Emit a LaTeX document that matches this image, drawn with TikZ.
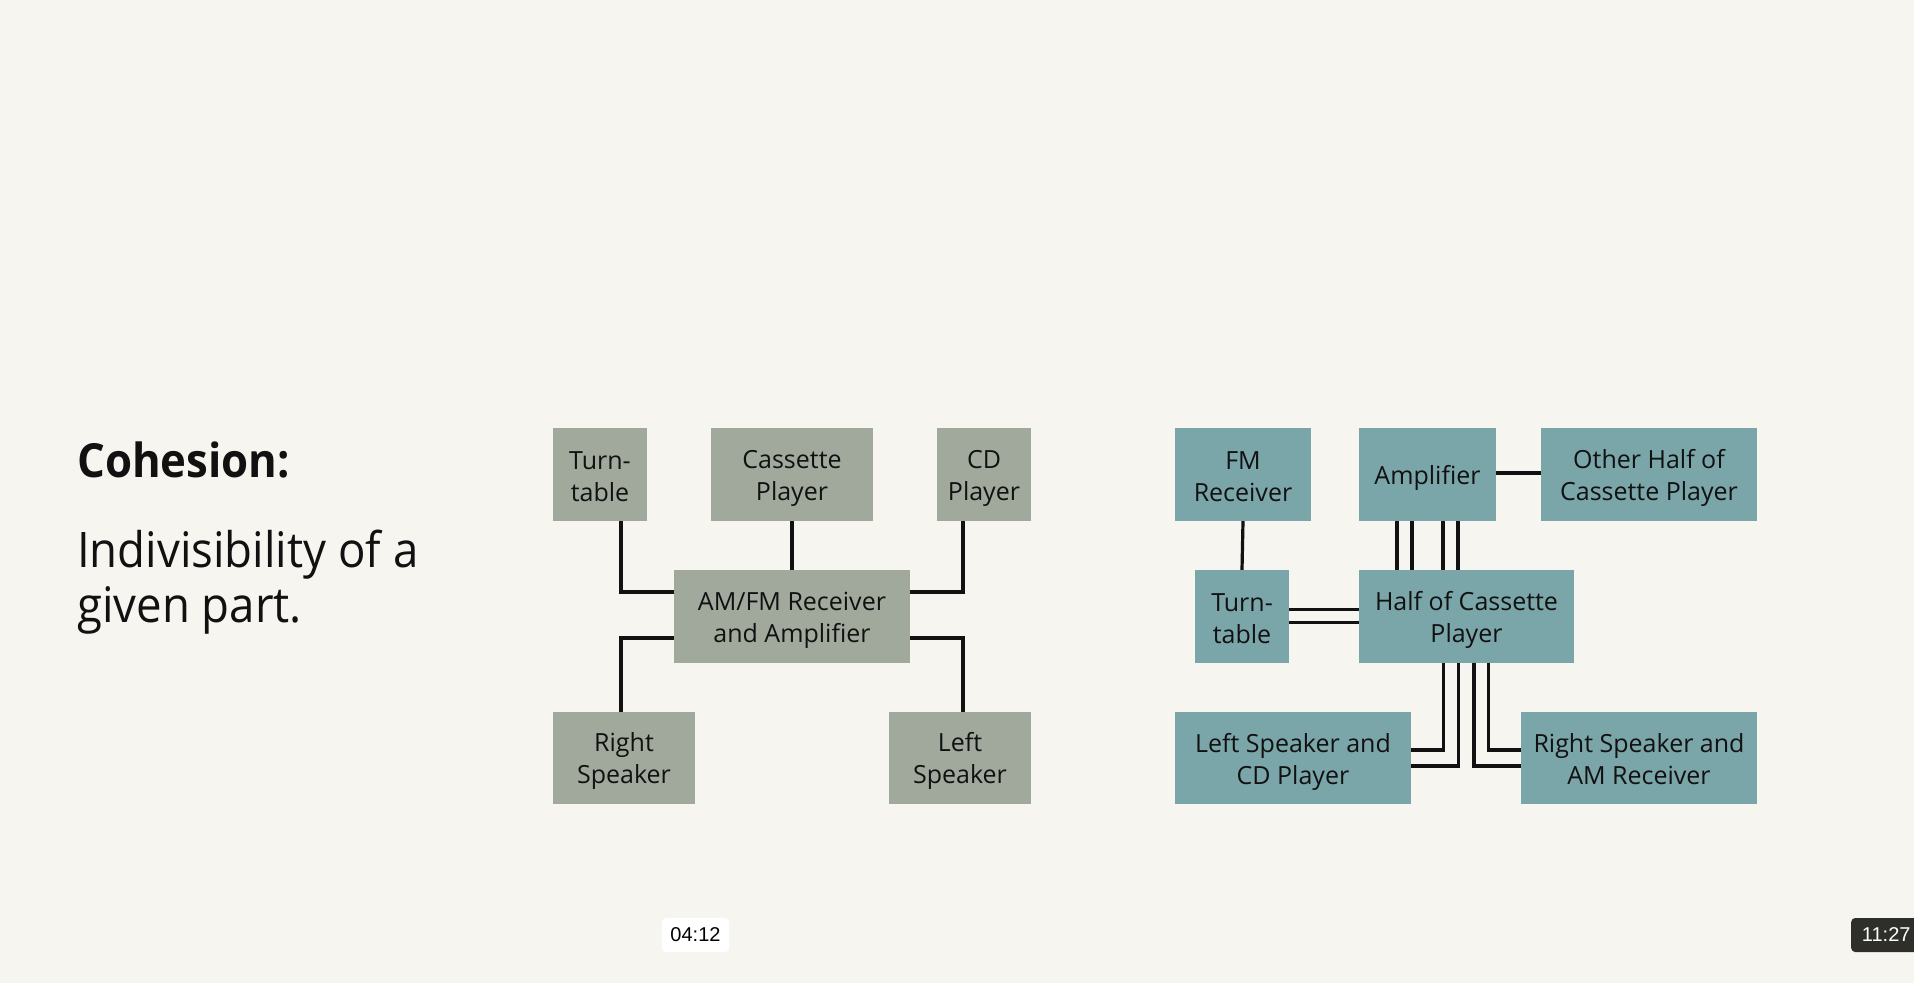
\documentclass[tikz,border=0pt]{standalone}
\usepackage{fontspec}
\setmainfont{Open Sans}
\newfontfamily\titlefont[FakeStretch=0.93]{Open Sans}
\newfontfamily\stampfont{Liberation Sans}
\usetikzlibrary{calc}
\definecolor{bg}{HTML}{F7F5EF}
\definecolor{grayfill}{HTML}{A1A99D}
\definecolor{tealfill}{HTML}{7AA5A9}
\definecolor{ink}{HTML}{111111}
\definecolor{darkstamp}{HTML}{2E2E2B}
\tikzset{
  box/.style={draw=none, inner sep=0pt},
  gbox/.style={box, fill=grayfill},
  tbox/.style={box, fill=tealfill},
  boxtext/.style={inner sep=0pt, align=center, text=ink,
    font=\fontsize{25}{32}\selectfont},
  wire/.style={draw=ink, line width=3.2pt},
  title/.style={anchor=base west, inner sep=0pt, text=ink},
  stamp/.style={inner sep=0pt, rounded corners=4pt, font=\stampfont\fontsize{20}{20}\selectfont}
}
\newcommand{\boxlabel}[3][-3.5pt]{\node[boxtext] (#2-t) at ([yshift=#1]#2.center) {#3};}
\begin{document}
\begin{tikzpicture}[x=1pt,y=-1pt]
\useasboundingbox (0,0) rectangle (1914,983);
\fill[bg] (0,0) rectangle (1914,983);

% left text
\node[title, font=\titlefont\bfseries\fontsize{47}{56}\selectfont] (ttl) at (77,477) {Cohesion:};
\node[title, font=\titlefont\fontsize{49}{53}\selectfont] (l1) at (77,567) {Indivisibility of a};
\node[title, font=\titlefont\fontsize{49}{53}\selectfont] (l2) at (77,622.5) {given part.};

% left diagram
\node[gbox, minimum width=94pt, minimum height=93pt] (tt) at (600,474.5) {};
\node[gbox, minimum width=162pt, minimum height=93pt] (cas) at (792,474.5) {};
\node[gbox, minimum width=94pt, minimum height=93pt] (cd) at (984,474.5) {};
\node[gbox, minimum width=236pt, minimum height=93pt] (amfm) at (792,616.5) {};
\node[gbox, minimum width=142pt, minimum height=92pt] (rs) at (624,758) {};
\node[gbox, minimum width=142pt, minimum height=92pt] (ls) at (960,758) {};
\boxlabel[-2.5pt]{tt}{Turn-\\table}
\boxlabel{cas}{Cassette\\Player}
\boxlabel{cd}{CD\\Player}
\boxlabel{amfm}{AM/FM Receiver\\and Amplifier}
\boxlabel[-2.5pt]{rs}{Right\\Speaker}
\boxlabel[-2.5pt]{ls}{Left\\Speaker}

\draw[wire] ([xshift=21pt]tt.south) |- ([yshift=24.5pt]amfm.west);
\draw[wire] (cas.south) -- (amfm.north);
\draw[wire] ([xshift=-21pt]cd.south) |- ([yshift=24.5pt]amfm.east);
\draw[wire] ([yshift=-21.5pt]amfm.west) -| ([xshift=-3pt]rs.north);
\draw[wire] ([yshift=-21.5pt]amfm.east) -| ([xshift=3pt]ls.north);

% right diagram
\node[tbox, minimum width=136pt, minimum height=93pt] (fm) at (1243,474.5) {};
\node[tbox, minimum width=137pt, minimum height=93pt] (amp) at (1427.5,474.5) {};
\node[tbox, minimum width=216pt, minimum height=93pt] (oth) at (1649,474.5) {};
\node[tbox, minimum width=94pt, minimum height=93pt] (tt2) at (1242,616.5) {};
\node[tbox, minimum width=215pt, minimum height=93pt] (half) at (1466.5,616.5) {};
\node[tbox, minimum width=236pt, minimum height=92pt] (lsc) at (1293,758) {};
\node[tbox, minimum width=236pt, minimum height=92pt] (rsa) at (1639,758) {};
\boxlabel[-2.5pt]{fm}{FM\\Receiver}
\boxlabel{amp}{Amplifier}
\boxlabel{oth}{Other Half of\\Cassette Player}
\boxlabel[-2.5pt]{tt2}{Turn-\\table}
\boxlabel{half}{Half of Cassette\\Player}
\boxlabel{lsc}{Left Speaker and\\CD Player}
\boxlabel[-1.5pt]{rsa}{Right Speaker and\\AM Receiver}

\draw[wire] (fm.south) -- (tt2.north);
\draw[wire] ([yshift=1.5pt]amp.east) -- ([yshift=1.5pt]oth.west);
\foreach \d in {-30.5,-15.5,15.5,30.5}{
  \draw[wire] ([xshift=\d pt]amp.south) -- ([xshift=\d pt]amp.south |- half.north);
}
\draw[wire] ([yshift=7pt]tt2.east) -- ([yshift=7pt]half.west);
\draw[wire] ([yshift=-6pt]tt2.east) -- ([yshift=-6pt]half.west);
\draw[wire] ([xshift=-23pt]half.south) |- ([yshift=8pt]lsc.east);
\draw[wire] ([xshift=-8pt]half.south) |- ([yshift=-8pt]lsc.east);
\draw[wire] ([xshift=7.5pt]half.south) |- ([yshift=-8pt]rsa.west);
\draw[wire] ([xshift=22pt]half.south) |- ([yshift=8pt]rsa.west);

% timestamps
\node[stamp, fill=white, text=black, minimum width=67pt, minimum height=34pt] (s1) at (695.5,935) {04:12};
\node[stamp, fill=darkstamp, text=white, minimum width=70pt, minimum height=34pt, anchor=west] (s2) at (1851,935) {11:27};
\end{tikzpicture}
\end{document}
